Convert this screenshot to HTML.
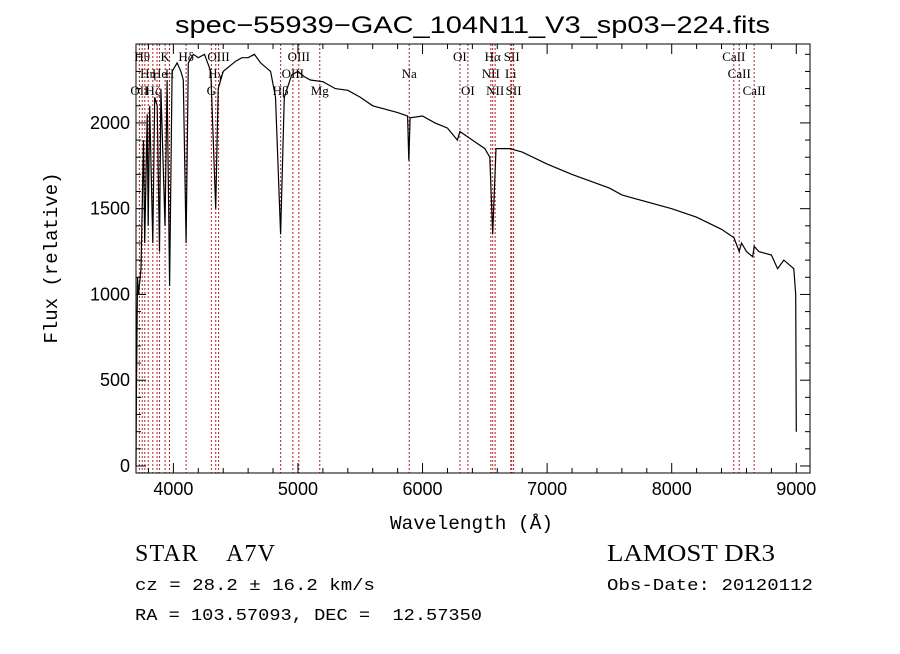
<!DOCTYPE html>
<html><head><meta charset="utf-8"><style>
body{margin:0;background:#fff;width:900px;height:649px;overflow:hidden}
svg text{fill:#000;white-space:pre}
</style></head><body>
<svg id="chart" width="900" height="649" xmlns="http://www.w3.org/2000/svg">
<rect width="900" height="649" fill="#fff"/>
<text x="175" y="33" textLength="595" lengthAdjust="spacingAndGlyphs" font-family="Liberation Sans, sans-serif" font-size="24">spec−55939−GAC_104N11_V3_sp03−224.fits</text>
<g id="lines"></g>
<g id="plot"></g>
<g id="axes"></g>
<text x="390" y="529" textLength="163" lengthAdjust="spacingAndGlyphs" font-family="Liberation Mono, monospace" font-size="19">Wavelength (Å)</text>
<text transform="translate(57,258) rotate(-90)" font-family="Liberation Mono, monospace" font-size="19" text-anchor="middle">Flux (relative)</text>
<text x="135" y="561" textLength="140" lengthAdjust="spacing" font-family="Liberation Serif, serif" font-size="24">STAR    A7V</text>
<text x="135" y="590" textLength="240" lengthAdjust="spacingAndGlyphs" font-family="Liberation Mono, monospace" font-size="17">cz = 28.2 ± 16.2 km/s</text>
<text x="135" y="620" textLength="347" lengthAdjust="spacingAndGlyphs" font-family="Liberation Mono, monospace" font-size="17">RA = 103.57093, DEC =  12.57350</text>
<text x="607" y="561" textLength="168" lengthAdjust="spacingAndGlyphs" font-family="Liberation Serif, serif" font-size="24">LAMOST DR3</text>
<text x="607" y="590" textLength="206" lengthAdjust="spacingAndGlyphs" font-family="Liberation Mono, monospace" font-size="17">Obs-Date: 20120112</text>
</svg>
<script>
const wave=[3700,3703,3712,3720,3740,3760,3770,3790,3798,3810,3835,3850,3870,3889,3900,3933,3950,3970,3990,4030,4060,4080,4102,4120,4160,4200,4250,4300,4340,4360,4400,4450,4500,4550,4600,4650,4700,4780,4820,4861,4890,4950,5000,5050,5100,5200,5300,5400,5500,5600,5700,5800,5880,5890,5900,6000,6100,6200,6280,6300,6400,6500,6540,6563,6590,6700,6800,7000,7200,7500,7600,7700,8000,8200,8400,8500,8542,8560,8600,8650,8662,8700,8800,8850,8900,8980,8995,9000];
const flux=[0,400,1100,1000,1150,1900,1300,2050,1400,2100,1300,2150,2100,1250,2200,1400,2250,1050,2300,2350,2300,2250,1300,2350,2400,2380,2400,2300,1500,2200,2300,2330,2360,2380,2380,2400,2350,2300,2150,1350,2150,2280,2300,2270,2250,2240,2200,2190,2150,2100,2080,2060,2040,1780,2030,2040,2000,1970,1900,1950,1900,1850,1800,1350,1850,1850,1830,1760,1700,1620,1580,1560,1500,1450,1380,1330,1250,1300,1250,1220,1280,1250,1230,1150,1200,1150,1000,200];
const lineWave=[3727,3750,3771,3798,3835,3869,3889,3934,3969,4102,4305,4340,4363,4861,4959,5007,5175,5893,6300,6364,6548,6563,6583,6708,6716,6731,8498,8542,8662];
const lineNames=["OII","Hθ","","Hη","Hζ","","He","K","H","Hδ","G","Hγ","OIII","Hβ","OIII","OIII","Mg","Na","OI","OI","NII","Hα","NII","Li","SII","SII","CaII","CaII","CaII"];
const lineRow=[2,0,1,1,2,1,1,0,1,0,2,1,0,2,1,0,2,1,0,2,1,0,2,1,0,2,0,1,2];
const xTicks=[4000,5000,6000,7000,8000,9000];
const yTicks=[0,500,1000,1500,2000];
const L=136,R=810,T=44,B=473,X0=3700,X1=9110,Y0=-41,Y1=2460;
const sx=w=>L+(w-X0)/(X1-X0)*(R-L);
const sy=f=>B-(f-Y0)/(Y1-Y0)*(B-T);
const NS="http://www.w3.org/2000/svg";
function mk(tag,attrs,parent){const e=document.createElementNS(NS,tag);for(const k in attrs)e.setAttribute(k,attrs[k]);document.getElementById(parent).appendChild(e);return e;}
lineWave.forEach((w,i)=>{
  const l=mk('line',{x1:sx(w),x2:sx(w),y1:T,y2:B,stroke:'#b22222','stroke-width':1,'stroke-dasharray':'2,2'},'lines');
  
  
  if(lineNames[i]){
    const t=mk('text',{x:sx(w),y:T+17+lineRow[i]*17,'font-family':'Liberation Serif, serif','font-size':13,'text-anchor':'middle'},'lines');
    t.textContent=lineNames[i];
    
    
  }
});
const d=wave.map((w,i)=>(i?'L':'M')+sx(w).toFixed(1)+','+sy(flux[i]).toFixed(1)).join('');
const p=mk('path',{d:d,fill:'none',stroke:'#000','stroke-width':1.2},'plot');


const fr=mk('rect',{x:L,y:T,width:R-L,height:B-T,fill:'none',stroke:'#000','stroke-width':1},'axes');


for(let w=3800;w<=X1;w+=200){const maj=w%1000===0;const len=maj?10:5;
  mk('line',{x1:sx(w),x2:sx(w),y1:B,y2:B-len,stroke:'#000'},'axes');
  mk('line',{x1:sx(w),x2:sx(w),y1:T,y2:T+len,stroke:'#000'},'axes');}
for(let f=0;f<=Y1;f+=100){const maj=f%500===0;const len=maj?10:5;
  mk('line',{x1:L,x2:L+len,y1:sy(f),y2:sy(f),stroke:'#000'},'axes');
  mk('line',{x1:R,x2:R-len,y1:sy(f),y2:sy(f),stroke:'#000'},'axes');}
xTicks.forEach(w=>{const t=mk('text',{x:sx(w),y:B+22,'font-family':'Liberation Sans, sans-serif','font-size':18,'text-anchor':'middle'},'axes');t.textContent=w;
  
  });
yTicks.forEach(f=>{const t=mk('text',{x:L-6,y:sy(f)+6,'font-family':'Liberation Sans, sans-serif','font-size':18,'text-anchor':'end'},'axes');t.textContent=f;
  
  });
</script>
</body></html>
